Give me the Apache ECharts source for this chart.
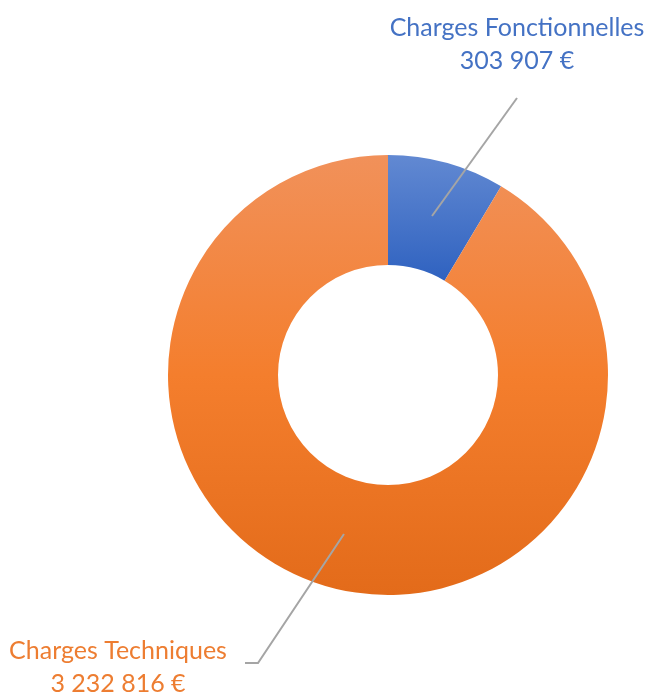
<!DOCTYPE html>
<html>
<head>
<meta charset="utf-8">
<script src="https://cdn.jsdelivr.net/npm/echarts@6/dist/echarts.min.js"></script>
<style>
  html, body { margin: 0; padding: 0; background: #fff; }
  #chart { width: 646px; height: 693px; }
</style>
</head>
<body>
<div id="chart"></div>
<script>
// données du graphique
const categories = ["Charges Fonctionnelles", "Charges Techniques"];
const values = [303907, 3232816];
const textColors = ["#4472C4", "#ED7D31"];

const gradients = [
  new echarts.graphic.LinearGradient(0, 0, 0, 1, [
    { offset: 0, color: "#6289D2" },
    { offset: 1, color: "#2F62C0" },
  ]),
  new echarts.graphic.LinearGradient(0, 0, 0, 1, [
    { offset: 0, color: "#F1915A" },
    { offset: 0.5, color: "#F47E2D" },
    { offset: 1, color: "#E36B1A" },
  ]),
];

// format "303 907 €"
const formatEuro = (v) => String(v).replace(/\B(?=(\d{3})+(?!\d))/g, " ") + " €";

const ringData = categories.map((name, i) => ({
  name: name,
  value: values[i],
  itemStyle: { color: gradients[i] },
}));

const labelData = categories.map((name, i) => ({
  name: name,
  value: values[i],
  label: { color: textColors[i] },
}));

// positions des étiquettes et fin des traits
const labelPos = [
  { x: 517, y: 44, line: [[517, 98], [517, 98]] },
  { x: 118, y: 667, line: [[258, 663], [245, 663]] },
];

const myChart = echarts.init(document.getElementById("chart"));
myChart.setOption({
  animation: false,
  series: [
    {
      type: "pie",
      z: 2,
      center: [388, 375],
      radius: [110, 220],
      startAngle: 90,
      clockwise: true,
      silent: true,
      label: { show: false },
      labelLine: { show: false },
      data: ringData,
    },
    {
      // série transparente pour démarrer les traits au milieu de l'anneau
      type: "pie",
      z: 5,
      center: [388, 375],
      radius: [0, 165],
      startAngle: 90,
      clockwise: true,
      silent: true,
      itemStyle: { color: "rgba(0,0,0,0)" },
      label: {
        show: true,
        position: "outside",
        fontFamily: "Lato",
        fontSize: 25,
        lineHeight: 33,
        align: "center",
        overflow: "none",
        formatter: (p) => p.name + "\n" + formatEuro(p.value),
      },
      labelLine: {
        show: true,
        length: 20,
        length2: 10,
        lineStyle: { color: "#A5A5A5", width: 2 },
      },
      labelLayout: function (params) {
        const pos = labelPos[params.dataIndex];
        const start = params.labelLinePoints ? params.labelLinePoints[0] : [388, 375];
        return {
          x: pos.x,
          y: pos.y,
          align: "center",
          verticalAlign: "middle",
          labelLinePoints: [start, pos.line[0], pos.line[1]],
        };
      },
      data: labelData,
    },
  ],
});
window.addEventListener("resize", function () {
  myChart.resize();
});
</script>
</body>
</html>
